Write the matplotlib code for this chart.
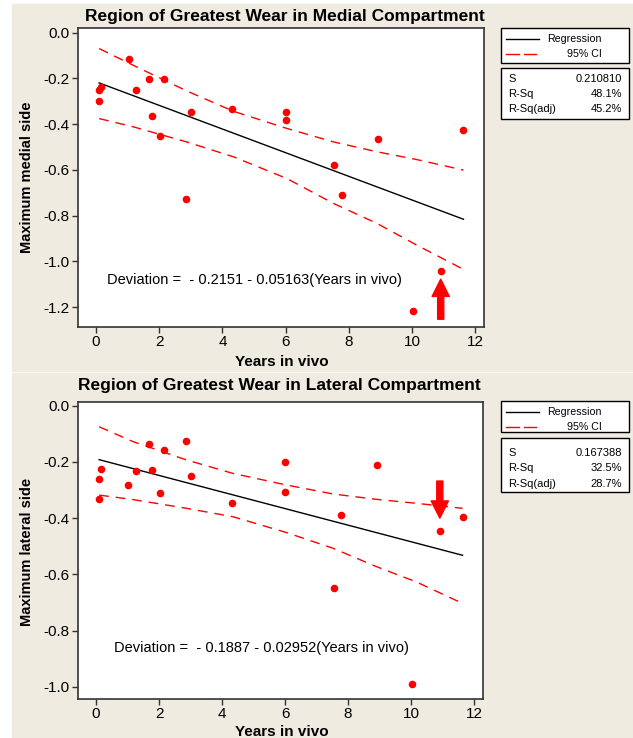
import matplotlib
matplotlib.use("Agg")
import matplotlib.pyplot as plt
from matplotlib.patches import Rectangle

plt.rcParams["font.family"] = ["Liberation Sans", "DejaVu Sans"]
plt.rcParams["axes.unicode_minus"] = False

# data
years = [0.1, 0.15, 0.1, 1.03, 1.28, 1.68, 1.78, 2.03, 2.16, 2.85,
         3.02, 4.31, 6.0, 6.0, 7.54, 7.78, 8.92, 10.03, 10.91, 11.63]
medial = [-0.252, -0.240, -0.301, -0.117, -0.253, -0.204, -0.366, -0.454, -0.204, -0.728,
          -0.347, -0.336, -0.347, -0.382, -0.581, -0.709, -0.465, -1.219, -1.043, -0.425]
lateral = [-0.262, -0.225, -0.333, -0.281, -0.232, -0.137, -0.229, -0.309, -0.158, -0.126,
           -0.250, -0.345, -0.201, -0.306, -0.647, -0.389, -0.210, -0.988, -0.444, -0.396]

fit_x = [0.1, 11.63]
medial_fit = [-0.220, -0.816]
lateral_fit = [-0.192, -0.532]

ci_x = [0.1, 1.18, 2.87, 4.35, 6.04, 7.52, 8.89, 10.15, 11.63]
medial_upper = [-0.070, -0.143, -0.255, -0.344, -0.419, -0.478, -0.521, -0.555, -0.601]
medial_lower = [-0.376, -0.412, -0.478, -0.543, -0.638, -0.747, -0.834, -0.929, -1.035]
lateral_upper = [-0.075, -0.128, -0.193, -0.241, -0.282, -0.314, -0.333, -0.347, -0.365]
lateral_lower = [-0.318, -0.334, -0.365, -0.395, -0.451, -0.507, -0.572, -0.626, -0.703]

panels = [
    dict(title="Region of Greatest Wear in Medial Compartment", ylabel="Maximum medial side",
         y=medial, fit=medial_fit, up=medial_upper, lo=medial_lower,
         eq="Deviation =  - 0.2151 - 0.05163(Years in vivo)", eq_xy=(0.36, -1.082),
         arrow=((10.91, -1.253), (10.91, -1.078)),
         yticks=[0.0, -0.2, -0.4, -0.6, -0.8, -1.0, -1.2], ylim=(-1.287, 0.02),
         stats=["0.210810", "48.1%", "45.2%"]),
    dict(title="Region of Greatest Wear in Lateral Compartment", ylabel="Maximum lateral side",
         y=lateral, fit=lateral_fit, up=lateral_upper, lo=lateral_lower,
         eq="Deviation =  - 0.1887 - 0.02952(Years in vivo)", eq_xy=(0.58, -0.863),
         arrow=((10.91, -0.268), (10.91, -0.400)),
         yticks=[0.0, -0.2, -0.4, -0.6, -0.8, -1.0], ylim=(-1.043, 0.013),
         stats=["0.167388", "32.5%", "28.7%"]),
]
stat_names = ["S", "R-Sq", "R-Sq(adj)"]

W, H = 633, 738
fig = plt.figure(figsize=(W / 100, H / 100), dpi=100, facecolor="white")


def fx(px):
    return px / W


def fy(py):
    return 1 - py / H


beige = "#efebe1"
fig.patches.append(Rectangle((fx(12), fy(371)), fx(W - 12), (371 - 4) / H,
                             transform=fig.transFigure, color=beige, zorder=-5))
fig.patches.append(Rectangle((fx(12), 0), fx(W - 12), (H - 373) / H,
                             transform=fig.transFigure, color=beige, zorder=-5))

# layout in pixels: axes box, title y, xlabel y, legend boxes
layout = [
    dict(box=(78, 28, 484, 327), title_y=17, title_x=285, xlab_y=362, ylab_y=177,
         leg1=(28.3, 63.3), leg2=(68.3, 119.3), rows1=(39, 53.7), rows2=(79.3, 94, 109.3)),
    dict(box=(78, 402, 483, 699), title_y=386, title_x=279, xlab_y=732, ylab_y=552,
         leg1=(400.7, 432.3), leg2=(437.7, 492.3), rows1=(411.7, 427.3), rows2=(452.7, 468.3, 484)),
]

for p, L in zip(panels, layout):
    x0, y0, x1, y1 = L["box"]
    ax = fig.add_axes([fx(x0), fy(y1), (x1 - x0) / W, (y1 - y0) / H])
    ax.set_facecolor("white")

    ax.plot(ci_x, p["up"], color="red", lw=1, dashes=(7, 5))
    ax.plot(ci_x, p["lo"], color="red", lw=1, dashes=(7, 5))
    ax.plot(fit_x, p["fit"], color="black", lw=1)
    ax.scatter(years, p["y"], s=30, color="red", zorder=3, linewidths=0)

    tail, tip = p["arrow"]
    ax.annotate("", xy=tip, xytext=tail,
                arrowprops=dict(arrowstyle="simple,head_width=0.62,head_length=0.62,tail_width=0.22",
                                color="red", mutation_scale=20, shrinkA=0, shrinkB=0))

    ax.text(p["eq_xy"][0], p["eq_xy"][1], p["eq"], fontsize=10.5, va="center", ha="left")

    ax.set_xlim(-0.57, 12.28)
    ax.set_ylim(*p["ylim"])
    ax.set_xticks(range(0, 13, 2))
    ax.set_yticks(p["yticks"])
    ax.set_yticklabels([f"{v:.1f}" for v in p["yticks"]])
    ax.tick_params(direction="out", length=4, width=1, labelsize=11, color="#333333", pad=2)
    for s in ax.spines.values():
        s.set_color("#333333")
        s.set_linewidth(1.2)

    fig.text(fx(L["title_x"]), fy(L["title_y"]), p["title"], fontsize=12.5, fontweight="bold",
             ha="center", va="center")
    fig.text(fx(282), fy(L["xlab_y"]), "Years in vivo", fontsize=11, fontweight="bold",
             ha="center", va="center")
    fig.text(fx(27), fy(L["ylab_y"]), p["ylabel"], fontsize=10.5, fontweight="bold",
             ha="center", va="center", rotation=90)

    # legend box
    t1, b1 = L["leg1"]
    fig.patches.append(Rectangle((fx(500.7), fy(b1)), (628.5 - 500.7) / W, (b1 - t1) / H,
                                 transform=fig.transFigure, facecolor="white",
                                 edgecolor="black", lw=1, zorder=2))
    r1, r2 = L["rows1"]
    fig.lines.append(plt.Line2D([fx(506), fx(539)], [fy(r1), fy(r1)], transform=fig.transFigure,
                                color="black", lw=1, zorder=3))
    fig.lines.append(plt.Line2D([fx(506), fx(518.5)], [fy(r2), fy(r2)], transform=fig.transFigure,
                                color="red", lw=1, zorder=3))
    fig.lines.append(plt.Line2D([fx(523.5), fx(536)], [fy(r2), fy(r2)], transform=fig.transFigure,
                                color="red", lw=1, zorder=3))
    fig.text(fx(602), fy(r1), "Regression", fontsize=7.7, ha="right", va="center", zorder=4)
    fig.text(fx(602), fy(r2), "95% CI", fontsize=7.7, ha="right", va="center", zorder=4)

    # stats box
    t2, b2 = L["leg2"]
    fig.patches.append(Rectangle((fx(500.7), fy(b2)), (628.5 - 500.7) / W, (b2 - t2) / H,
                                 transform=fig.transFigure, facecolor="white",
                                 edgecolor="black", lw=1, zorder=2))
    for name, val, ry in zip(stat_names, p["stats"], L["rows2"]):
        fig.text(fx(508), fy(ry), name, fontsize=8, ha="left", va="center", zorder=4)
        fig.text(fx(622), fy(ry), val, fontsize=8, ha="right", va="center", zorder=4)

fig.savefig("out.png", dpi=100, facecolor="white")
